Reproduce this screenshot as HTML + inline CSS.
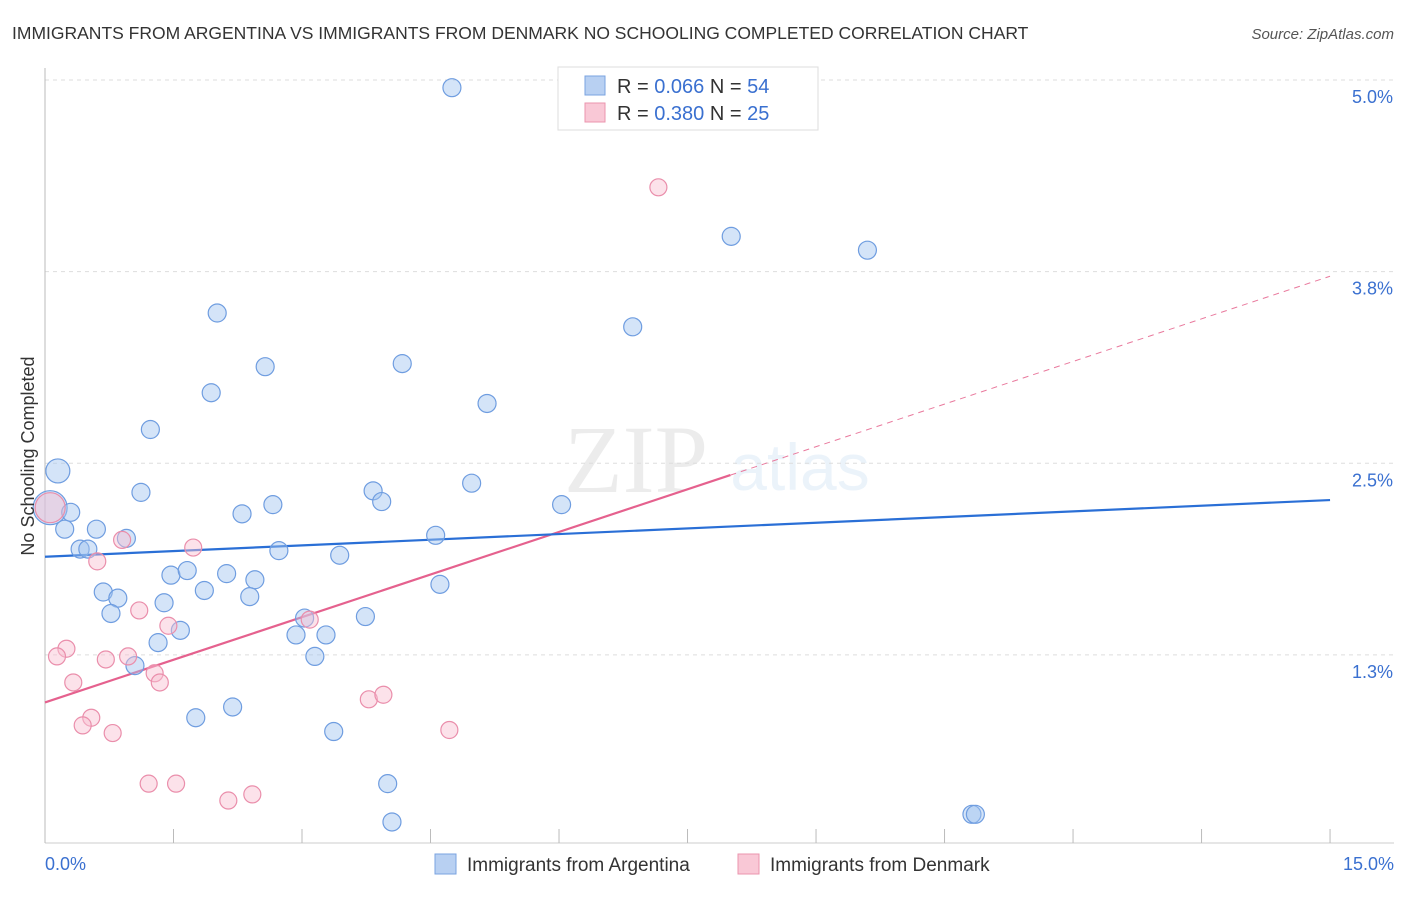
<!DOCTYPE html>
<html><head><meta charset="utf-8"><style>
body{margin:0;background:#fff;font-family:"Liberation Sans",sans-serif}
</style></head><body>
<svg id="c" width="1406" height="892" xmlns="http://www.w3.org/2000/svg" font-family="Liberation Sans, sans-serif">
<text x="12" y="39" font-size="17.5" fill="#333">IMMIGRANTS FROM ARGENTINA VS IMMIGRANTS FROM DENMARK NO SCHOOLING COMPLETED CORRELATION CHART</text>
<text x="1394" y="39" font-size="15" fill="#555" font-style="italic" text-anchor="end">Source: ZipAtlas.com</text>
<text x="636" y="492" font-size="96" fill="#000" opacity="0.07" text-anchor="middle" font-family="Liberation Serif, serif">ZIP</text>
<text x="800" y="490" font-size="66" fill="#4a90d9" opacity="0.1" text-anchor="middle">atlas</text>
<g id="grid"></g>
<g id="axes"></g>
<g id="trends"></g>
<g id="pts"></g>
<text transform="translate(34,456) rotate(-90)" font-size="18" fill="#333" text-anchor="middle">No Schooling Completed</text>
<g>
<rect x="558" y="67" width="260" height="63" fill="#fff" stroke="#ddd"/>
<rect x="585" y="76" width="20" height="19" fill="#b8d0f2" stroke="#7aa3e0"/>
<rect x="585" y="103" width="20" height="19" fill="#f9c8d6" stroke="#eb94ae"/>
<text x="617" y="93" font-size="20" fill="#333">R = <tspan fill="#3a70d0">0.066</tspan>   N = <tspan fill="#3a70d0">54</tspan></text>
<text x="617" y="120" font-size="20" fill="#333">R = <tspan fill="#3a70d0">0.380</tspan>   N = <tspan fill="#3a70d0">25</tspan></text>
</g>
<g>
<rect x="435" y="854" width="21" height="20" fill="#b8d0f2" stroke="#7aa3e0"/>
<text x="467" y="871" font-size="19" fill="#333">Immigrants from Argentina</text>
<rect x="738" y="854" width="21" height="20" fill="#f9c8d6" stroke="#eb94ae"/>
<text x="770" y="871" font-size="19" fill="#333">Immigrants from Denmark</text>
</g>
</svg>
<script>
const yTicks=[5.0,3.75,2.5,1.25];
const yTickLabels=["5.0%","3.8%","2.5%","1.3%"];
const xTickLabels=["0.0%","15.0%"];
const argX=[4.75,8.01,9.60,6.86,2.01,2.57,4.17,1.94,5.16,1.23,0.15,0.06,0.30,0.23,0.60,0.41,0.50,1.12,0.95,2.30,2.66,3.83,3.93,4.98,6.03,4.56,2.73,3.44,1.47,1.66,2.12,2.45,0.68,0.85,1.86,2.39,1.39,4.61,0.77,3.03,3.74,1.32,1.58,2.93,3.28,3.15,1.05,1.76,2.19,3.37,4.00,4.05,10.82,10.86];
const argY=[4.95,3.98,3.89,3.39,3.48,3.13,3.15,2.96,2.89,2.72,2.45,2.21,2.18,2.07,2.07,1.94,1.94,2.31,2.01,2.17,2.23,2.32,2.25,2.37,2.23,2.03,1.93,1.90,1.77,1.80,1.78,1.74,1.66,1.62,1.67,1.63,1.59,1.71,1.52,1.49,1.50,1.33,1.41,1.38,1.38,1.24,1.18,0.84,0.91,0.75,0.41,0.16,0.21,0.21];
const denX=[7.16,0.06,0.90,1.73,0.61,1.10,1.44,3.09,0.25,0.14,0.71,0.97,1.28,1.34,0.33,0.54,0.44,0.79,3.78,3.95,4.72,1.21,1.53,2.14,2.42];
const denY=[4.30,2.21,2.00,1.95,1.86,1.54,1.44,1.48,1.29,1.24,1.22,1.24,1.13,1.07,1.07,0.84,0.79,0.74,0.96,0.99,0.76,0.41,0.41,0.30,0.34];
const argTrend=[1.89,2.26];
const denTrend=[0.94,3.72];
const denSolidEnd=8.0;
const X=v=>45+v*85.67, Y=v=>80+(5-v)*153.3;
const NS="http://www.w3.org/2000/svg";
function mk(t,a,p){const e=document.createElementNS(NS,t);for(const k in a)e.setAttribute(k,a[k]);p.appendChild(e);return e;}
const grid=document.getElementById('grid'),axes=document.getElementById('axes'),tr=document.getElementById('trends'),pts=document.getElementById('pts');
yTicks.forEach((v,i)=>{
 const l=mk('line',{x1:45,x2:1394,y1:Y(v),y2:Y(v),stroke:'#ddd','stroke-dasharray':'4,4'},grid);
 
 
 const t=mk('text',{x:1393,y:Y(v)+23,'font-size':18,fill:'#3a70d0','text-anchor':'end'},grid);
 t.textContent=yTickLabels[i];
 
 
});
const ya=mk('line',{x1:45,x2:45,y1:68,y2:843,stroke:'#bbb'},axes);


const xa=mk('line',{x1:45,x2:1394,y1:843,y2:843,stroke:'#ccc'},axes);


for(let i=0;i<=10;i++){const v=i*1.5;
 const tk=mk('line',{x1:X(v),x2:X(v),y1:829,y2:843,stroke:'#bbb'},axes);
 
 }
const xl0=mk('text',{x:45,y:870,'font-size':18,fill:'#3a70d0'},axes);xl0.textContent=xTickLabels[0];


const xl1=mk('text',{x:1394,y:870,'font-size':18,fill:'#3a70d0','text-anchor':'end'},axes);xl1.textContent=xTickLabels[1];


const dy=v=>denTrend[0]+(denTrend[1]-denTrend[0])*v/15;
const dd=mk('line',{x1:X(denSolidEnd),y1:Y(dy(denSolidEnd)),x2:X(15),y2:Y(denTrend[1]),stroke:'#e9799d','stroke-width':1,'stroke-dasharray':'6,5'},tr);


const ds=mk('line',{x1:X(0),y1:Y(denTrend[0]),x2:X(denSolidEnd),y2:Y(dy(denSolidEnd)),stroke:'#e5618e','stroke-width':2.2},tr);


const at=mk('line',{x1:X(0),y1:Y(argTrend[0]),x2:X(15),y2:Y(argTrend[1]),stroke:'#2a6fd6','stroke-width':2.2},tr);


argX.forEach((x,i)=>{
 const r=i==11?17:(i==10?12:9);
 const c=mk('circle',{cx:X(x),cy:Y(argY[i]),r:r,fill:'rgba(160,195,240,0.45)',stroke:'#6f9de0','stroke-width':1.2},pts);
 
 
});
denX.forEach((x,i)=>{
 const r=i==1?15:8.5;
 const c=mk('circle',{cx:X(x),cy:Y(denY[i]),r:r,fill:'rgba(248,190,208,0.45)',stroke:'#ea8eab','stroke-width':1.2},pts);
 
 
});
</script>
</body></html>
